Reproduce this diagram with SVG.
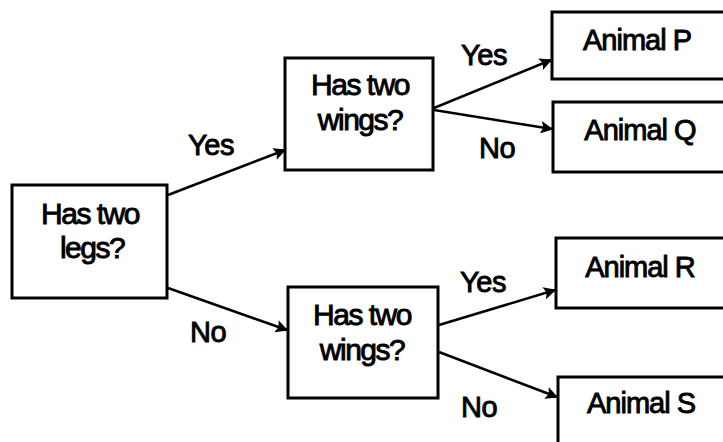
<svg xmlns="http://www.w3.org/2000/svg" width="723" height="442" viewBox="0 0 723 442">
<style>
.box{fill:#fff;stroke:#000;stroke-width:3}
.t{font-family:"Liberation Sans",Arial,sans-serif;font-size:30px;fill:#000;stroke:#000;stroke-width:0.9;text-anchor:middle;letter-spacing:-1.5px}
.a{font-size:29px;letter-spacing:-1px}
.l{font-family:"Liberation Sans",Arial,sans-serif;font-size:29px;fill:#000;stroke:#000;stroke-width:0.9;text-anchor:middle;letter-spacing:-0.5px}
.c{stroke:#000;stroke-width:2.5;fill:none;marker-end:url(#ah)}
</style>
<defs>
<marker id="ah" viewBox="0 0 10 10" refX="9" refY="5" markerWidth="6" markerHeight="5" orient="auto" markerUnits="strokeWidth">
<path d="M0,0 L10,5 L0,10 L2,5 Z" fill="#000"/>
</marker>
</defs>
<rect width="723" height="442" fill="#fff"/>
<g id="connectors">
<line class="c" x1="168" y1="195" x2="285" y2="150"/>
<line class="c" x1="168" y1="288" x2="287" y2="330"/>
<line class="c" x1="434" y1="108" x2="551" y2="60"/>
<line class="c" x1="434" y1="110" x2="552" y2="129"/>
<line class="c" x1="439" y1="325" x2="555" y2="290"/>
<line class="c" x1="439" y1="352" x2="557" y2="397"/>
<text class="l" x="211" y="155">Yes</text>
<text class="l" x="208" y="342">No</text>
<text class="l" x="484" y="65">Yes</text>
<text class="l" x="497" y="158">No</text>
<text class="l" x="483" y="292">Yes</text>
<text class="l" x="479" y="417">No</text>
</g>
<g id="legs">
<rect class="box" x="12" y="185" width="155" height="113"/>
<text class="t" x="90" y="224">Has two</text>
<text class="t" x="92" y="258">legs?</text>
</g>
<g id="wings1">
<rect class="box" x="285" y="58" width="148" height="112"/>
<text class="t" x="360" y="95">Has two</text>
<text class="t" x="360" y="130">wings?</text>
</g>
<g id="wings2">
<rect class="box" x="288" y="287" width="150" height="111"/>
<text class="t" x="362" y="325">Has two</text>
<text class="t" x="362" y="360">wings?</text>
</g>
<g id="animalP">
<rect class="box" x="552" y="12" width="180" height="67"/>
<text class="t a" x="637" y="50">Animal P</text>
</g>
<g id="animalQ">
<rect class="box" x="553" y="102" width="180" height="70"/>
<text class="t a" x="640" y="140">Animal Q</text>
</g>
<g id="animalR">
<rect class="box" x="556" y="238" width="180" height="70"/>
<text class="t a" x="640" y="277">Animal R</text>
</g>
<g id="animalS">
<rect class="box" x="558" y="377" width="180" height="80"/>
<text class="t a" x="641" y="413">Animal S</text>
</g>
</svg>
